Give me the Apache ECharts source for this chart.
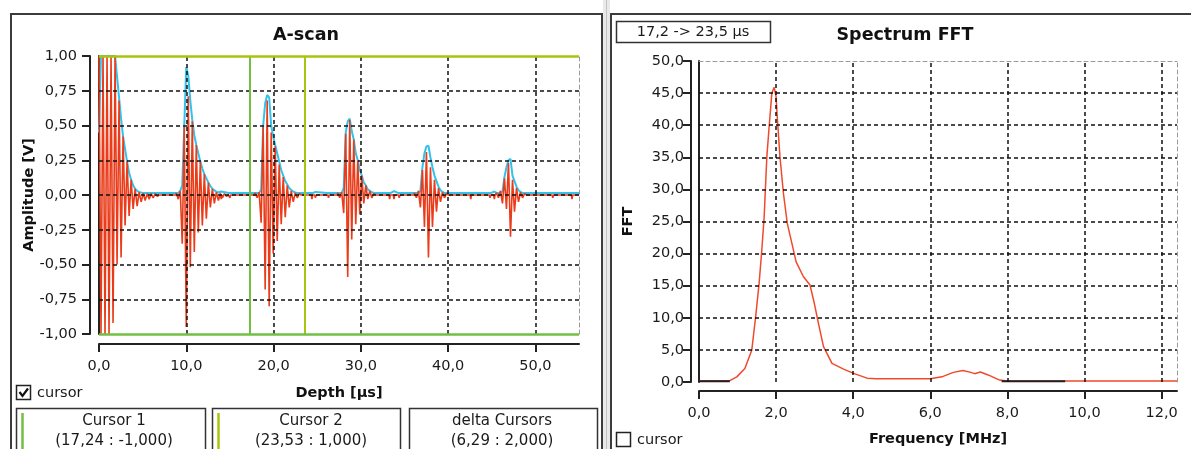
<!DOCTYPE html>
<html>
<head>
<meta charset="utf-8">
<script src="https://cdn.jsdelivr.net/npm/echarts@6/dist/echarts.min.js"></script>
<style>
html,body{margin:0;padding:0;background:#fff;}
#chart{width:1191px;height:449px;}
</style>
</head>
<body>
<div id="chart"></div>
<script>
// ---------- A-scan data ----------
const STEP = 0.23; // sample spacing of the listed half-periods (µs)
const echoStarts = [0.0, 8.85, 17.89, 27.35, 36.14, 45.54];
const echo1Red = [1, -1, 1, -1, 1, -1, 1, -0.92, 1, -0.5, 0.68, -0.45, 0.42, -0.22, 0.24, -0.15, 0.11, -0.1, 0.045, -0.08, 0.02, -0.05, 0.012, -0.04, 0.01, -0.03, 0.01, -0.02, 0.01, -0.01];
const echo2Red = [0.015, -0.03, 0.03, -0.35, 0.49, -0.95, 0.71, -0.52, 0.53, -0.41, 0.36, -0.27, 0.24, -0.22, 0.15, -0.17, 0.09, -0.09, 0.045, -0.06, 0.02, -0.04, 0.012, -0.02, 0.01, -0.01];
const echo3Red = [0.015, -0.02, 0.02, -0.2, 0.49, -0.68, 0.68, -0.80, 0.45, -0.42, 0.35, -0.33, 0.22, -0.21, 0.13, -0.16, 0.07, -0.09, 0.03, -0.05, 0.015, -0.02, 0.01];
const echo4Red = [0.015, -0.02, 0.02, -0.13, 0.44, -0.59, 0.54, -0.32, 0.40, -0.21, 0.25, -0.14, 0.14, -0.06, 0.07, -0.03, 0.03, -0.02, 0.01];
const echo5Red = [0.015, -0.02, 0.03, -0.09, 0.18, -0.23, 0.31, -0.45, 0.2, -0.23, 0.11, -0.12, 0.05, -0.05, 0.02, -0.02, 0.01];
const echo6Red = [0.015, -0.02, 0.03, -0.06, 0.12, -0.1, 0.23, -0.30, 0.11, -0.12, 0.05, -0.05, 0.02, -0.02, 0.01];

const echo1Blue = [0.45, 1, 1, 1, 1, 1, 1, 1, 1, 0.85, 0.7, 0.55, 0.42, 0.33, 0.24, 0.16, 0.11, 0.07, 0.045, 0.03, 0.022, 0.018, 0.015];
const echo2Blue = [0.015, 0.015, 0.03, 0.07, 0.5, 0.92, 0.86, 0.68, 0.54, 0.43, 0.36, 0.3, 0.24, 0.19, 0.15, 0.12, 0.09, 0.065, 0.045, 0.033, 0.024, 0.018, 0.015];
const echo3Blue = [0.015, 0.015, 0.015, 0.04, 0.5, 0.66, 0.72, 0.7, 0.5, 0.42, 0.36, 0.3, 0.24, 0.18, 0.14, 0.1, 0.075, 0.05, 0.035, 0.025, 0.018, 0.015];
const echo4Blue = [0.015, 0.015, 0.015, 0.05, 0.45, 0.53, 0.55, 0.46, 0.4, 0.3, 0.25, 0.18, 0.14, 0.09, 0.07, 0.04, 0.03, 0.02, 0.015];
const echo5Blue = [0.015, 0.015, 0.015, 0.03, 0.2, 0.3, 0.35, 0.355, 0.27, 0.2, 0.14, 0.1, 0.06, 0.035, 0.022, 0.015];
const echo6Blue = [0.015, 0.015, 0.015, 0.025, 0.13, 0.2, 0.25, 0.26, 0.14, 0.1, 0.06, 0.035, 0.022, 0.015];

const rippleTimes = [14.0, 15.0, 24.4, 24.8, 26.3, 33.3, 33.8, 34.4, 42.6, 44.8, 45.3, 52.0, 54.2];
const rippleRed   = [-0.03, -0.02, -0.03, -0.02, -0.02, -0.03, -0.03, -0.02, -0.03, -0.02, -0.03, -0.02, -0.03];
const rippleBlue  = [0.025, 0.022, 0.025, 0.022, 0.022, 0.028, 0.028, 0.025, 0.025, 0.022, 0.025, 0.022, 0.028];
const BLUE_BASE = 0.015;

const depthTicks = [0, 10, 20, 30, 40, 50];
const ampTicks = [-1, -0.75, -0.5, -0.25, 0, 0.25, 0.5, 0.75, 1];

const cursor1 = [17.24, -1.0];
const cursor2 = [23.53, 1.0];

// ---------- FFT data ----------
const fftFreq  = [0, 0.8, 0.98, 1.19, 1.37, 1.47, 1.56, 1.63, 1.69, 1.76, 1.82, 1.89, 1.95, 2.0, 2.03, 2.10, 2.19, 2.29, 2.41, 2.52, 2.71, 2.88, 2.99, 3.10, 3.23, 3.45, 3.75, 4.01, 4.36, 4.6, 6.0, 6.3, 6.6, 6.85, 7.05, 7.15, 7.3, 7.5, 7.8, 8.0, 9.5, 12.4];
const fftValue = [0.2, 0.2, 0.8, 2.1, 5.0, 10.2, 15.4, 20.6, 25.7, 35.1, 39.8, 45.0, 45.9, 44.4, 41.3, 35.1, 29.4, 24.7, 21.6, 18.7, 16.4, 15.1, 12.3, 9.1, 5.5, 2.9, 2.0, 1.35, 0.6, 0.5, 0.5, 0.8, 1.5, 1.8, 1.5, 1.3, 1.55, 1.1, 0.3, 0.15, 0.15, 0.15];
const fftBaseSegments = [[0, 0.8], [7.85, 9.5]];
const FFT_BASE = 0.1;
const freqTicks = [0, 2, 4, 6, 8, 10, 12];
const fftTicks = [0, 5, 10, 15, 20, 25, 30, 35, 40, 45, 50];

// ---------- build series data ----------
const echoRed = [echo1Red, echo2Red, echo3Red, echo4Red, echo5Red, echo6Red];
const echoBlue = [echo1Blue, echo2Blue, echo3Blue, echo4Blue, echo5Blue, echo6Blue];

function buildRed() {
  const pts = [];
  echoRed.forEach((seq, k) => {
    const s = echoStarts[k];
    if (s > 0) pts.push([s - 0.05, 0]);
    seq.forEach((v, i) => pts.push([+(s + i * STEP).toFixed(3), v]));
    pts.push([s + seq.length * STEP, 0]);
  });
  rippleTimes.forEach((t, i) => {
    pts.push([t - 0.08, 0]); pts.push([t, rippleRed[i]]); pts.push([t + 0.08, 0]);
  });
  pts.push([55, 0]);
  pts.sort((a, b) => a[0] - b[0]);
  return pts;
}
function buildBlue() {
  const pts = [];
  echoBlue.forEach((seq, k) => {
    const s = echoStarts[k];
    seq.forEach((v, i) => pts.push([+(s + i * STEP).toFixed(3), v]));
  });
  rippleTimes.forEach((t, i) => {
    pts.push([t - 0.15, BLUE_BASE]); pts.push([t, rippleBlue[i]]); pts.push([t + 0.15, BLUE_BASE]);
  });
  pts.push([55, BLUE_BASE]);
  pts.sort((a, b) => a[0] - b[0]);
  return pts;
}
const fftData = fftFreq.map((f, i) => [f, fftValue[i]]);
const fftBaseData = [];
fftBaseSegments.forEach((seg, i) => {
  if (i > 0) fftBaseData.push(null);
  fftBaseData.push([seg[0], FFT_BASE], [seg[1], FFT_BASE]);
});

const comma = (v, d) => v.toFixed(d).replace('.', ',');
const FONT = '"DejaVu Sans", Verdana, sans-serif';
const TXT = '#1a1a1a';
const GREEN = '#72bf44';
const YGREEN = '#a8c40e';
const dashGrid = { type: [4, 3], color: '#111', width: 1.5 };

function mainXAxis(grid, min, max, ticks, dec, name, gap) {
  return {
    gridIndex: grid, type: 'value', min: min, max: max, position: 'bottom', offset: grid === 0 ? 10 : 9,
    axisLine: { show: true, onZero: false, lineStyle: { color: '#222', width: 2 } },
    axisTick: { show: true, length: 8, customValues: ticks, lineStyle: { color: '#222', width: 2 } },
    axisLabel: { show: true, customValues: ticks, margin: 15, fontSize: 14.5, fontFamily: FONT, color: TXT, formatter: v => comma(v, dec) },
    splitLine: { show: false },
    name: name, nameLocation: 'middle', nameGap: gap, nameMoveOverlap: false,
    nameTextStyle: { fontWeight: 'bold', fontSize: 14.5, fontFamily: FONT, color: '#111' }
  };
}
function mainYAxis(grid, min, max, interval, dec, offset, margin, name, gap) {
  return {
    gridIndex: grid, type: 'value', min: min, max: max, interval: interval, position: 'left', offset: offset,
    axisLine: { show: true, onZero: false, lineStyle: { color: '#222', width: 2 } },
    axisTick: { show: true, length: 8, lineStyle: { color: '#222', width: 2 } },
    axisLabel: { show: true, margin: margin, fontSize: 14.5, fontFamily: FONT, color: TXT, formatter: v => comma(v, dec) },
    splitLine: { show: false },
    name: name, nameLocation: 'middle', nameGap: gap, nameRotate: 90, nameMoveOverlap: false,
    nameTextStyle: { fontWeight: 'bold', fontSize: 14.5, fontFamily: FONT, color: '#111' }
  };
}
function borderAxis(kind, grid, min, max, position, lineStyle) {
  return {
    gridIndex: grid, type: 'value', min: min, max: max, position: position, offset: 0,
    axisLine: { show: true, onZero: false, lineStyle: lineStyle },
    axisTick: { show: false }, axisLabel: { show: false }, splitLine: { show: false }
  };
}

const option = {
  animation: false,
  backgroundColor: '#ffffff',
  textStyle: { fontFamily: FONT },
  grid: [
    { left: 99, top: 56, width: 480, height: 278, outerBoundsMode: 'none', containLabel: false },
    { left: 699, top: 61, width: 478, height: 321, outerBoundsMode: 'none', containLabel: false }
  ],
  xAxis: [
    mainXAxis(0, 0, 55, depthTicks, 1, 'Depth [µs]', 42),
    mainXAxis(1, 0, 12.4, freqTicks, 1, 'Frequency [MHz]', 41),
    borderAxis('x', 1, 0, 12.4, 'top', { color: '#9a9a9a', width: 1, type: [4, 3] })
  ],
  yAxis: [
    mainYAxis(0, -1, 1, 0.25, 2, 9, 13, 'Amplitude [V]', 53),
    borderAxis('y', 0, -1, 1, 'left', { color: '#222', width: 2 }),
    borderAxis('y', 0, -1, 1, 'right', { color: '#9a9a9a', width: 1, type: [4, 3] }),
    mainYAxis(1, 0, 50, 5, 1, 8, 7, 'FFT', 55),
    borderAxis('y', 1, 0, 50, 'left', { color: '#222', width: 2 }),
    borderAxis('y', 1, 0, 50, 'right', { color: '#9a9a9a', width: 1, type: [4, 3] })
  ],
  series: [
    { // A-scan grid lines
      type: 'line', xAxisIndex: 0, yAxisIndex: 0, data: [], z: 1, silent: true,
      markLine: {
        silent: true, symbol: ['none', 'none'], label: { show: false }, animation: false,
        lineStyle: dashGrid,
        data: depthTicks.filter(v => v > 0).map(v => ({ xAxis: v }))
          .concat(ampTicks.filter(v => v > -1 && v < 1).map(v => ({ yAxis: v })))
      }
    },
    {
      name: 'envelope', type: 'line', xAxisIndex: 0, yAxisIndex: 0, data: buildBlue(),
      showSymbol: false, symbol: 'none', z: 2, clip: true,
      lineStyle: { color: '#33c2ec', width: 2 }
    },
    {
      name: 'A-scan', type: 'line', xAxisIndex: 0, yAxisIndex: 0, data: buildRed(),
      showSymbol: false, symbol: 'none', z: 3, clip: true,
      lineStyle: { color: '#ea3c1a', width: 1.6 }
    },
    { // cursors
      type: 'line', xAxisIndex: 0, yAxisIndex: 0, data: [], z: 4, silent: true,
      markLine: {
        silent: true, symbol: ['none', 'none'], label: { show: false }, animation: false,
        data: [
          { xAxis: cursor1[0], lineStyle: { color: GREEN, width: 2, type: 'solid' } },
          { xAxis: cursor2[0], lineStyle: { color: YGREEN, width: 2, type: 'solid' } },
          { yAxis: cursor1[1], lineStyle: { color: GREEN, width: 2.5, type: 'solid' } },
          { yAxis: cursor2[1], lineStyle: { color: YGREEN, width: 2.5, type: 'solid' } }
        ]
      }
    },
    { // FFT grid lines
      type: 'line', xAxisIndex: 1, yAxisIndex: 3, data: [], z: 1, silent: true,
      markLine: {
        silent: true, symbol: ['none', 'none'], label: { show: false }, animation: false,
        lineStyle: dashGrid,
        data: freqTicks.filter(v => v > 0).map(v => ({ xAxis: v }))
          .concat(fftTicks.filter(v => v > 0 && v < 50).map(v => ({ yAxis: v })))
      }
    },
    {
      name: 'FFT', type: 'line', xAxisIndex: 1, yAxisIndex: 3, data: fftData,
      showSymbol: false, symbol: 'none', z: 3,
      lineStyle: { color: '#f04a2c', width: 1.5 }
    },
    {
      name: 'FFT base', type: 'line', xAxisIndex: 1, yAxisIndex: 3, data: fftBaseData,
      showSymbol: false, symbol: 'none', z: 4, connectNulls: false,
      lineStyle: { color: '#222', width: 2 }
    }
  ],
  graphic: [
    // panels
    { type: 'rect', shape: { x: 11, y: 14, width: 591, height: 470 }, style: { fill: 'none', stroke: '#3c3c3c', lineWidth: 2 }, z: 0 },
    { type: 'rect', shape: { x: 603, y: 0, width: 7, height: 449 }, style: { fill: '#e9e9e9' }, z: 0 },
    { type: 'line', shape: { x1: 606.5, y1: 0, x2: 606.5, y2: 449 }, style: { stroke: '#c4c4c4', lineWidth: 1 }, z: 0 },
    { type: 'rect', shape: { x: 611, y: 14, width: 600, height: 470 }, style: { fill: 'none', stroke: '#3c3c3c', lineWidth: 2 }, z: 0 },
    // titles
    { type: 'text', x: 306, y: 35, style: { text: 'A-scan', font: 'bold 17.5px ' + FONT, fill: '#111', align: 'center', verticalAlign: 'middle' } },
    { type: 'text', x: 905, y: 35, style: { text: 'Spectrum FFT', font: 'bold 17.5px ' + FONT, fill: '#111', align: 'center', verticalAlign: 'middle' } },
    // FFT window box
    { type: 'rect', shape: { x: 616.5, y: 21.5, width: 154, height: 21 }, style: { fill: '#fff', stroke: '#333', lineWidth: 1.5 } },
    { type: 'text', x: 693, y: 32.5, style: { text: comma(cursor1[0], 1) + ' -> ' + comma(cursor2[0], 1) + ' µs', font: '14.5px ' + FONT, fill: TXT, align: 'center', verticalAlign: 'middle' } },
    // left checkbox (checked)
    { type: 'rect', shape: { x: 16.5, y: 385.5, width: 14, height: 14 }, style: { fill: '#fff', stroke: '#222', lineWidth: 1.5 } },
    { type: 'polyline', shape: { points: [[19.5, 392], [22.5, 396], [28, 388.5]] }, style: { fill: 'none', stroke: '#111', lineWidth: 2.2 } },
    { type: 'text', x: 37, y: 393, style: { text: 'cursor', font: '14.5px ' + FONT, fill: TXT, align: 'left', verticalAlign: 'middle' } },
    // right checkbox (unchecked)
    { type: 'rect', shape: { x: 616.5, y: 432.5, width: 14, height: 14 }, style: { fill: '#fff', stroke: '#222', lineWidth: 1.5 } },
    { type: 'text', x: 637, y: 440, style: { text: 'cursor', font: '14.5px ' + FONT, fill: TXT, align: 'left', verticalAlign: 'middle' } },
    // cursor boxes
    { type: 'rect', shape: { x: 16.5, y: 408.5, width: 189, height: 60 }, style: { fill: '#fff', stroke: '#333', lineWidth: 1.5 } },
    { type: 'line', shape: { x1: 22.5, y1: 413, x2: 22.5, y2: 449 }, style: { stroke: GREEN, lineWidth: 2.5 } },
    { type: 'text', x: 114, y: 421, style: { text: 'Cursor 1', font: '15px ' + FONT, fill: TXT, align: 'center', verticalAlign: 'middle' } },
    { type: 'text', x: 114, y: 441, style: { text: '(' + comma(cursor1[0], 2) + ' : ' + comma(cursor1[1], 3) + ')', font: '15px ' + FONT, fill: TXT, align: 'center', verticalAlign: 'middle' } },
    { type: 'rect', shape: { x: 212.5, y: 408.5, width: 188, height: 60 }, style: { fill: '#fff', stroke: '#333', lineWidth: 1.5 } },
    { type: 'line', shape: { x1: 218.5, y1: 413, x2: 218.5, y2: 449 }, style: { stroke: YGREEN, lineWidth: 2.5 } },
    { type: 'text', x: 311, y: 421, style: { text: 'Cursor 2', font: '15px ' + FONT, fill: TXT, align: 'center', verticalAlign: 'middle' } },
    { type: 'text', x: 311, y: 441, style: { text: '(' + comma(cursor2[0], 2) + ' : ' + comma(cursor2[1], 3) + ')', font: '15px ' + FONT, fill: TXT, align: 'center', verticalAlign: 'middle' } },
    { type: 'rect', shape: { x: 409.5, y: 408.5, width: 188, height: 60 }, style: { fill: '#fff', stroke: '#333', lineWidth: 1.5 } },
    { type: 'text', x: 502, y: 421, style: { text: 'delta Cursors', font: '15px ' + FONT, fill: TXT, align: 'center', verticalAlign: 'middle' } },
    { type: 'text', x: 502, y: 441, style: { text: '(' + comma(cursor2[0] - cursor1[0], 2) + ' : ' + comma(cursor2[1] - cursor1[1], 3) + ')', font: '15px ' + FONT, fill: TXT, align: 'center', verticalAlign: 'middle' } }
  ]
};

const chart = echarts.init(document.getElementById('chart'), null, { renderer: 'canvas' });
chart.setOption(option);
</script>
</body>
</html>
